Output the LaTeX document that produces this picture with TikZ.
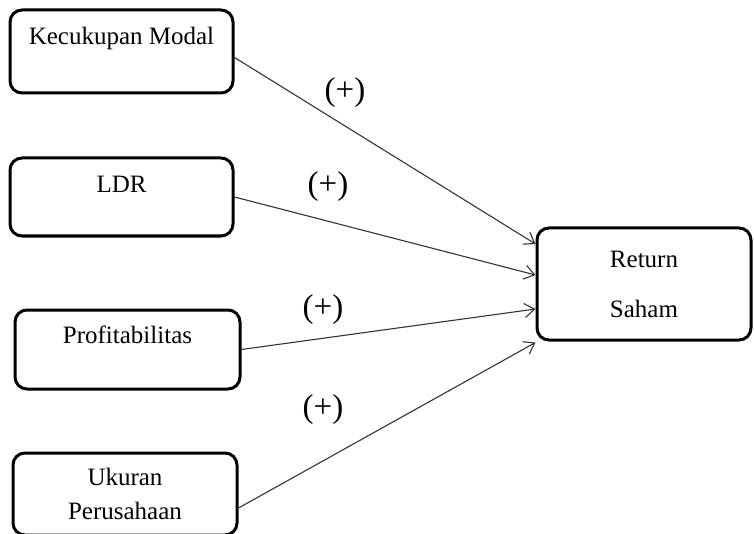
\documentclass[tikz,border=0pt]{standalone}
\usepackage{fontspec}
\setmainfont{Liberation Serif}
\usepackage{tikz}
\usetikzlibrary{arrows.meta}

\begin{document}
\begin{tikzpicture}[x=0.5pt, y=-0.5pt, inner sep=0pt]
    \tikzstyle{var}=[rectangle, draw=black, line width=1.5pt, rounded corners=6pt, fill=white, text=black, font=\fontsize{12.5}{14.5}\selectfont]
    \tikzstyle{sign}=[font=\fontsize{16.5}{18}\selectfont]
    \tikzstyle{eff}=[-{Straight Barb[length=5pt, width=7pt]}, draw=black!80, line width=0.55pt]

    \useasboundingbox (0,0) rectangle (754,534);

    % variabel bebas
    \node[var, anchor=base, minimum width=111.5pt, text height=17.5pt, text depth=24pt] (km) at (121.5,45) {Kecukupan Modal};
    \node[var, anchor=base, minimum width=111.5pt, text height=17.5pt, text depth=21.5pt] (ldr) at (121.5,193) {LDR};
    \node[var, anchor=base, minimum width=112.5pt, text height=16.5pt, text depth=23pt] (prof) at (127.5,343) {Profitabilitas};
    \node[var, align=center, minimum width=112pt, minimum height=41pt] (uk) at (125,494) {Ukuran\\[2.5pt]Perusahaan};

    % variabel terikat
    \node[var, align=center, minimum width=107pt, minimum height=56pt] (rs) at (644,284) {Return\\[10.5pt]Saham};

    % tanda
    \node[sign] (p1) at (345,93) {(+)};
    \node[sign] (p2) at (328,187) {(+)};
    \node[sign] (p3) at (323,310) {(+)};
    \node[sign] (p4) at (323,410) {(+)};

    % panah...
    \draw[eff] ([yshift=-3pt] km.east) to ([yshift=20pt] rs.west);
    \draw[eff] (ldr.east) to ([yshift=4.5pt] rs.west);
    \draw[eff] (prof.east) to ([yshift=-12.5pt] rs.west);
    \draw[eff] ([yshift=-7pt] uk.east) to ([yshift=-0.5pt] rs.south west);
\end{tikzpicture}
\end{document}
